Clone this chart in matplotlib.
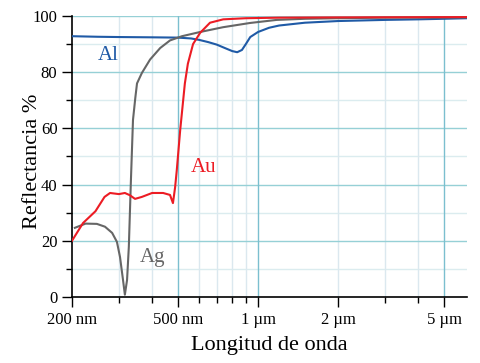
import matplotlib
matplotlib.use("Agg")
import matplotlib.pyplot as plt
from matplotlib.ticker import FixedLocator, NullFormatter

plt.rcParams['font.family'] = ['Liberation Serif', 'DejaVu Serif']

# wavelength (nm) / reflectance (%)
al_wl = [200, 250, 300, 400, 500, 560, 600, 650, 700, 750, 800, 835, 870,
         900, 935, 1000, 1100, 1200, 1500, 2000, 3000, 4000, 5000, 6100]
al_r = [92.8, 92.6, 92.5, 92.4, 92.3, 92.0, 91.5, 90.7, 89.8, 88.6, 87.5,
        87.1, 87.9, 90.0, 92.5, 94.3, 95.8, 96.6, 97.6, 98.2, 98.6, 98.8,
        99.0, 99.2]

au_wl = [200, 220, 245, 265, 278, 300, 316, 330, 345, 366, 400, 440, 467,
         479, 488, 495, 510, 531, 545, 570, 606, 660, 740, 900, 1200, 2000,
         6100]
au_r = [20.0, 26.3, 30.5, 35.6, 37.0, 36.6, 37.0, 36.2, 34.9, 35.6, 37.0,
        37.0, 36.3, 33.4, 39.0, 45.0, 59.4, 76.0, 83.0, 90.0, 94.0, 97.6,
        98.8, 99.2, 99.4, 99.5, 99.6]

ag_wl = [205, 225, 248, 266, 283, 295, 303, 311, 316, 322, 327, 333, 339,
         346, 351, 366, 393, 429, 467, 518, 606, 739, 932, 1175, 1500, 2000,
         3000, 6100]
ag_r = [24.6, 26.1, 26.0, 25.0, 22.8, 19.6, 14.2, 6.0, 0.8, 6.0, 17.8, 41.6,
        63.0, 71.0, 76.0, 79.7, 84.5, 88.6, 91.3, 92.8, 94.3, 96.0, 97.5,
        98.6, 99.0, 99.2, 99.4, 99.5]

x_major = [200, 500, 1000, 2000, 5000]
x_major_labels = ['200 nm', '500 nm', '1 µm', '2 µm', '5 µm']
x_minor = [300, 400, 600, 700, 800, 900, 3000, 4000]
x_grid_dark = [500, 1000, 5000]
x_grid_light = [300, 400, 600, 700, 800, 900, 2000, 3000, 4000]

c_al = '#1f5aa6'
c_au = '#ec1c24'
c_ag = '#666666'

fig = plt.figure(figsize=(4.8, 3.63), dpi=100)
ax = fig.add_axes([0.15, 0.182, 0.823, 0.774])
ax.set_xscale('log')
ax.set_xlim(200, 6100)
ax.set_ylim(0, 100)

# grid
for y in range(10, 101, 20):
    ax.axhline(y, color='#dbecef', lw=1, zorder=0)
for y in range(20, 101, 20):
    ax.axhline(y, color='#96d0d6', lw=1, zorder=0.5)
for x in x_grid_light:
    ax.axvline(x, color='#dbe8ef', lw=1, zorder=0)
for x in x_grid_dark:
    ax.axvline(x, color='#7bbfcf', lw=1, zorder=0.5)

ax.plot(al_wl, al_r, color=c_al, lw=1.5, zorder=3)
ax.plot(ag_wl, ag_r, color=c_ag, lw=1.5, zorder=3)
ax.plot(au_wl, au_r, color=c_au, lw=1.5, zorder=4)

ax.text(273, 86, 'Al', color=c_al, fontsize=15, ha='center', va='center')
ax.text(625, 46, 'Au', color=c_au, fontsize=15, ha='center', va='center')
ax.text(400, 14, 'Ag', color=c_ag, fontsize=15, ha='center', va='center')

ax.xaxis.set_major_locator(FixedLocator(x_major))
ax.set_xticklabels(x_major_labels)
ax.xaxis.set_minor_locator(FixedLocator(x_minor))
ax.xaxis.set_minor_formatter(NullFormatter())
ax.yaxis.set_major_locator(FixedLocator(range(0, 101, 20)))
ax.yaxis.set_minor_locator(FixedLocator(range(10, 100, 20)))
ax.tick_params(which='major', length=7, width=1, labelsize=12, colors='black')
ax.tick_params(which='minor', length=4, width=1)

for s in ['top', 'right']:
    ax.spines[s].set_visible(False)
for s in ['left', 'bottom']:
    ax.spines[s].set_linewidth(1.2)

ax.set_xlabel('Longitud de onda', fontsize=16, labelpad=6)
ax.set_ylabel('Reflectancia %', fontsize=16)
ax.yaxis.set_label_coords(-0.075, 0.484)

fig.savefig('out.png', dpi=100)
